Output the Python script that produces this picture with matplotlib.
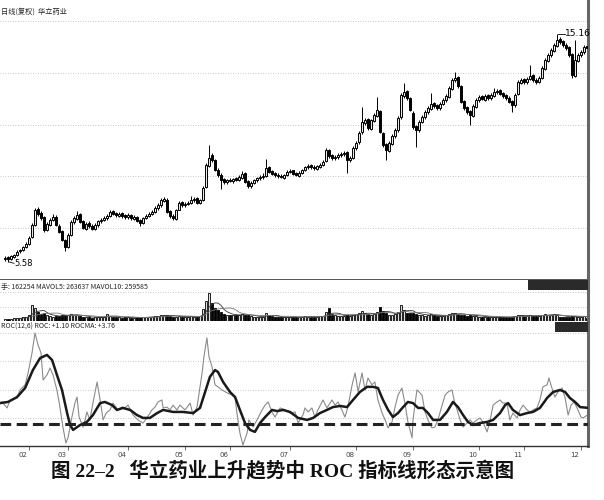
import numpy as np
import pandas as pd
import matplotlib
matplotlib.use("Agg")
import matplotlib.pyplot as plt
from matplotlib.patches import Rectangle
from matplotlib.transforms import ScaledTranslation

# daily candles (price, yuan)
opens = [5.70, 5.78, 5.72, 5.80, 5.88, 6.02, 6.07, 6.20, 6.33, 6.62,
         7.15, 7.80, 7.62, 7.45, 6.90, 7.15, 7.36, 7.48, 7.10, 6.86,
         6.48, 6.20, 6.72, 7.24, 7.40, 7.58, 7.28, 6.98, 7.20, 7.10,
         6.95, 7.12, 7.28, 7.33, 7.42, 7.50, 7.70, 7.62, 7.52, 7.62,
         7.53, 7.45, 7.56, 7.40, 7.48, 7.32, 7.20, 7.42, 7.50, 7.58,
         7.66, 7.83, 7.95, 8.15, 8.20, 7.70, 7.52, 7.40, 7.78, 8.08,
         7.95, 8.00, 8.04, 8.16, 8.25, 8.05, 8.18, 8.72, 9.60, 10.05,
         9.85, 9.46, 9.25, 9.05, 8.92, 9.04, 8.96, 9.10, 9.00, 9.12,
         9.30, 8.96, 8.75, 8.88, 9.00, 9.10, 9.14, 9.18, 9.55, 9.38,
         9.30, 9.25, 9.20, 9.12, 9.22, 9.34, 9.42, 9.30, 9.20, 9.30,
         9.42, 9.55, 9.63, 9.58, 9.50, 9.58, 9.64, 9.80, 10.30, 10.05,
         9.93, 9.98, 10.05, 10.10, 10.20, 9.84, 9.96, 10.35, 10.60, 11.02,
         11.40, 11.58, 11.18, 11.50, 11.72, 11.90, 11.00, 10.52, 10.25, 10.55,
         10.85, 11.10, 11.65, 12.55, 12.75, 12.45, 11.85, 11.28, 11.10, 11.44,
         11.65, 11.86, 12.02, 12.24, 12.15, 12.03, 12.20, 12.36, 12.52, 12.85,
         13.20, 13.35, 12.95, 12.32, 12.08, 11.90, 11.72, 12.10, 12.36, 12.54,
         12.40, 12.57, 12.45, 12.56, 12.70, 12.78, 12.66, 12.58, 12.48, 12.32,
         12.15, 12.62, 13.10, 13.25, 13.12, 13.25, 13.42, 13.24, 13.12, 13.30,
         13.70, 14.02, 14.25, 14.45, 14.65, 14.95, 14.85, 14.70, 14.60, 14.30,
         13.40, 14.02, 14.25, 14.38, 14.65]
closes = [5.75, 5.71, 5.83, 5.87, 6.00, 6.08, 6.21, 6.34, 6.59, 7.13,
          7.76, 7.60, 7.43, 6.92, 7.18, 7.34, 7.47, 7.13, 6.84, 6.50,
          6.21, 6.71, 7.26, 7.43, 7.55, 7.26, 7.01, 7.18, 7.09, 6.97,
          7.13, 7.30, 7.34, 7.43, 7.51, 7.68, 7.60, 7.55, 7.60, 7.51,
          7.47, 7.55, 7.43, 7.47, 7.30, 7.22, 7.43, 7.51, 7.60, 7.68,
          7.85, 7.97, 8.18, 8.23, 7.68, 7.51, 7.43, 7.76, 8.06, 7.97,
          8.02, 8.06, 8.18, 8.23, 8.06, 8.18, 8.69, 9.65, 9.95, 9.86,
          9.44, 9.23, 9.02, 8.94, 9.02, 8.98, 9.07, 9.02, 9.15, 9.28,
          8.94, 8.77, 8.90, 9.02, 9.11, 9.15, 9.19, 9.53, 9.36, 9.28,
          9.23, 9.19, 9.15, 9.23, 9.36, 9.40, 9.28, 9.23, 9.32, 9.44,
          9.57, 9.61, 9.57, 9.53, 9.61, 9.65, 9.78, 10.28, 10.03, 9.95,
          9.99, 10.07, 10.12, 10.16, 9.86, 9.95, 10.37, 10.58, 11.00, 11.46,
          11.54, 11.21, 11.54, 11.75, 11.96, 11.04, 10.49, 10.28, 10.58, 10.87,
          11.12, 11.63, 12.59, 12.72, 12.47, 11.96, 11.25, 11.12, 11.46, 11.67,
          11.88, 12.05, 12.22, 12.13, 12.05, 12.22, 12.38, 12.55, 12.89, 13.22,
          13.31, 12.97, 12.30, 12.05, 11.88, 11.75, 12.13, 12.38, 12.51, 12.43,
          12.55, 12.47, 12.59, 12.72, 12.76, 12.64, 12.55, 12.47, 12.30, 12.17,
          12.59, 13.14, 13.22, 13.14, 13.27, 13.39, 13.22, 13.14, 13.31, 13.73,
          14.06, 14.27, 14.48, 14.69, 14.90, 14.82, 14.69, 14.57, 14.27, 13.43,
          14.06, 14.27, 14.40, 14.61, 14.57]
highs = [5.82, 5.84, 5.88, 5.93, 6.06, 6.14, 6.26, 6.40, 6.65, 7.20,
         7.85, 7.88, 7.70, 7.50, 7.25, 7.42, 7.58, 7.55, 7.16, 6.92,
         6.55, 6.78, 7.32, 7.52, 7.72, 7.62, 7.34, 7.25, 7.28, 7.16,
         7.20, 7.36, 7.42, 7.50, 7.58, 7.76, 7.78, 7.68, 7.66, 7.68,
         7.60, 7.62, 7.60, 7.54, 7.52, 7.38, 7.48, 7.58, 7.66, 7.75,
         7.92, 8.05, 8.25, 8.30, 8.25, 7.76, 7.58, 7.82, 8.12, 8.14,
         8.10, 8.14, 8.36, 8.30, 8.30, 8.24, 8.75, 9.72, 10.49, 10.15,
         9.90, 9.52, 9.30, 9.10, 9.08, 9.10, 9.12, 9.15, 9.22, 9.40,
         9.34, 9.00, 8.96, 9.08, 9.16, 9.22, 9.30, 9.90, 9.62, 9.42,
         9.36, 9.30, 9.26, 9.28, 9.42, 9.50, 9.46, 9.35, 9.38, 9.50,
         9.62, 9.68, 9.68, 9.64, 9.66, 9.72, 9.85, 10.37, 10.34, 10.10,
         10.06, 10.14, 10.20, 10.24, 10.24, 10.02, 10.44, 10.66, 11.08, 12.09,
         11.64, 11.64, 11.60, 11.82, 12.51, 11.95, 11.05, 10.58, 10.64, 10.94,
         11.20, 11.70, 12.66, 13.10, 12.80, 12.50, 11.90, 11.34, 11.52, 11.74,
         11.95, 12.12, 12.68, 12.30, 12.20, 12.28, 12.45, 12.62, 12.96, 13.30,
         13.56, 13.40, 13.00, 12.38, 12.14, 11.96, 12.20, 12.45, 12.58, 12.60,
         12.62, 12.62, 12.66, 12.89, 12.84, 12.84, 12.72, 12.64, 12.54, 12.38,
         12.66, 13.22, 13.30, 13.32, 13.34, 13.85, 13.48, 13.30, 13.38, 13.80,
         14.14, 14.35, 14.56, 14.78, 15.16, 15.02, 14.92, 14.76, 14.66, 14.35,
         14.90, 14.34, 14.48, 14.68, 14.72]
lows = [5.62, 5.58, 5.68, 5.76, 5.84, 5.97, 6.02, 6.15, 6.30, 6.58,
        7.10, 7.52, 7.35, 6.85, 6.86, 7.10, 7.30, 7.08, 6.78, 6.44,
        6.05, 6.15, 6.68, 7.18, 7.36, 7.20, 6.95, 6.92, 7.02, 6.90,
        6.90, 7.06, 7.22, 7.28, 7.36, 7.45, 7.54, 7.48, 7.46, 7.44,
        7.40, 7.40, 7.36, 7.34, 7.24, 7.10, 7.16, 7.38, 7.45, 7.54,
        7.62, 7.78, 7.90, 8.08, 7.62, 7.44, 7.35, 7.36, 7.74, 7.90,
        7.90, 7.95, 8.00, 8.10, 8.00, 8.00, 8.14, 8.70, 9.55, 9.78,
        9.38, 9.16, 8.65, 8.86, 8.86, 8.92, 8.90, 8.96, 8.96, 9.08,
        8.88, 8.70, 8.70, 8.84, 8.95, 9.04, 9.08, 9.14, 9.30, 9.22,
        9.16, 9.12, 9.10, 9.08, 9.18, 9.30, 9.22, 9.18, 9.16, 9.26,
        9.38, 9.50, 9.50, 9.46, 9.46, 9.54, 9.60, 9.76, 9.96, 9.88,
        9.88, 9.92, 10.00, 10.04, 9.32, 9.78, 9.92, 10.30, 10.55, 10.96,
        11.32, 11.14, 11.12, 11.45, 11.68, 10.98, 10.42, 9.86, 10.20, 10.50,
        10.80, 11.05, 11.60, 12.45, 12.40, 11.90, 11.18, 10.41, 11.05, 11.40,
        11.60, 11.80, 11.96, 12.06, 11.96, 11.98, 12.15, 12.30, 12.48, 12.80,
        13.14, 12.90, 12.24, 11.98, 11.80, 11.33, 11.68, 12.05, 12.30, 12.36,
        12.35, 12.40, 12.40, 12.50, 12.64, 12.58, 12.48, 12.40, 12.24, 11.88,
        12.10, 12.58, 13.04, 13.06, 13.06, 13.20, 13.15, 13.06, 13.08, 13.25,
        13.65, 13.96, 14.20, 14.40, 14.60, 14.74, 14.62, 14.50, 14.20, 13.31,
        13.36, 13.96, 14.18, 14.32, 14.50]

# volume, 万手
volume = [14, 12, 15, 16, 18, 20, 22, 28, 40, 100,
          80, 55, 45, 50, 35, 30, 28, 30, 32, 35,
          40, 38, 42, 35, 40, 30, 28, 25, 22, 20,
          24, 26, 25, 28, 44, 30, 28, 24, 22, 20,
          22, 24, 20, 18, 22, 26, 24, 22, 25, 28,
          30, 32, 35, 38, 40, 30, 26, 28, 32, 28,
          25, 24, 30, 28, 26, 30, 75, 125, 175, 110,
          80, 70, 55, 45, 40, 38, 35, 40, 38, 42,
          40, 36, 30, 28, 26, 25, 28, 48, 38, 30,
          26, 24, 22, 24, 26, 28, 24, 22, 25, 28,
          30, 28, 26, 25, 28, 30, 34, 55, 80, 42,
          35, 32, 30, 34, 40, 32, 38, 42, 50, 60,
          48, 42, 40, 44, 55, 88, 60, 48, 40, 38,
          42, 55, 100, 70, 52, 48, 50, 45, 38, 35,
          34, 36, 42, 35, 32, 30, 34, 36, 42, 48,
          52, 45, 40, 35, 34, 38, 32, 30, 28, 26,
          25, 24, 26, 28, 25, 24, 22, 24, 26, 28,
          34, 40, 36, 32, 30, 38, 34, 30, 32, 38,
          42, 40, 38, 42, 40, 25, 24, 22, 26, 30.4,
          30, 28, 28, 30, 16.2]

# ROC(12) and ROCMA(6) (day index, %)
roc_day = [-1, 0.7, 1.7, 4, 5, 6.7, 7.7, 9, 10, 11, 12, 12.7, 14, 15, 16, 17.3,
           18.3, 19.3, 20.3, 21, 22.3, 23.3, 24, 24.7, 26, 26.7, 27.3, 28.3, 29.3,
           30.7, 31.7, 32.7, 33.7, 35, 36, 37.7, 39, 40, 41, 42.7, 44.3, 46, 47.3,
           49, 50, 51, 52.3, 52.7, 54, 55, 56, 57.3, 58.3, 60, 61.7, 62.7, 64, 64.7,
           65.7, 66.3, 67.3, 68, 69, 70, 71, 72.3, 74, 75.7, 76.7, 77.3, 78.3, 79.3,
           80.7, 81.3, 82.7, 84, 85.7, 86.7, 87.7, 89, 90, 91.7, 93.3, 95, 96.7,
           97.7, 98.3, 99.3, 100, 101, 102.3, 103.3, 104.3, 106, 107.3, 109, 110,
           111, 112.3, 113.3, 114.3, 115.7, 116.7, 117.7, 119, 120, 121, 122.3,
           123.3, 124.3, 125.7, 126.7, 127.7, 129, 130, 131, 132.3, 133.3, 134.3,
           135.7, 136, 137.3, 138, 139, 140, 141, 142.3, 143.3, 144.3, 145.7, 146.7,
           147.7, 149, 149.7, 150.7, 151.7, 152.7, 154, 155, 156, 157.3, 158.3,
           159.3, 160.7, 161.7, 162.7, 164, 165, 166, 167.3, 168.3, 169.3, 170.7,
           171.7, 172.7, 174, 175, 176, 177.3, 178.3, 179.3, 180.7, 181.3, 182.3,
           183.3, 184.3, 185.7, 186.7, 187.7, 188.7, 189.7, 190.7, 192, 192.7, 194]
roc_val = [5.8, 3.7, 6.5, 7.2, 10.0, 11.8, 16.0, 23.0, 30.0, 25.8, 23.0, 13.5, 15.3,
           17.7, 15.3, 10.0, 4.0, -3.0, -8.6, -6.8, 0.5, 5.4, 7.5, 0.5, -3.0, -0.5,
           2.3, -0.5, 5.4, 12.8, 6.5, -0.5, 1.9, 3.0, 5.4, 3.0, 4.0, 3.7, 4.7, 1.2,
           -0.5, -1.6, 0.2, 3.0, 4.0, 5.8, 6.5, 3.7, 4.0, 3.0, 4.7, 3.0, 4.7, 3.0,
           5.4, 1.2, 4.0, 9.0, 16.0, 21.6, 28.3, 21.6, 18.1, 11.8, 11.1, 10.0, 9.0,
           8.2, 7.2, 1.9, -5.1, -9.3, -5.1, -0.5, -3.0, -0.5, 3.0, 4.7, 5.8, 2.3,
           0.5, 3.7, 3.0, 1.9, 2.3, -1.6, -0.5, 1.2, 3.7, 2.3, 3.7, 0.5, 3.0, 6.5,
           3.7, 6.5, 4.7, 5.8, 3.0, 0.5, 4.0, 11.8, 16.0, 9.3, 16.0, 10.0, 14.2,
           11.8, 12.8, 6.5, 1.9, -0.5, -3.3, -1.2, 4.0, 8.2, 10.7, 5.4, -1.2, -6.8,
           -0.5, 10.0, 9.3, 8.2, 2.3, -0.5, -3.3, -3.0, -0.5, 4.7, 8.2, 9.3, 10.0,
           6.5, 3.0, -0.5, -3.0, -1.6, -0.5, -1.6, -0.5, 0.2, -1.2, -4.7, -0.5, 4.7,
           5.8, 6.5, 5.4, 5.4, -0.5, 1.9, 0.2, 3.0, 4.7, 3.0, 2.3, 3.0, 3.7, 6.5,
           11.1, 11.8, 14.2, 10.7, 7.5, 9.3, 10.7, 7.2, 1.2, 4.7, 5.8, 3.7, 0.5,
           0.2, 1.1]
rocma_day = [-1.7, 1, 4, 6.7, 9.3, 11.7, 14, 15.7, 17.3, 19, 20.7, 21.7, 22.7, 25,
             27.3, 29.3, 31.7, 33.3, 35.7, 37.3, 39.3, 41.7, 44, 46, 48.3, 50.7,
             52.7, 56, 59.3, 62.7, 65, 66.7, 68.3, 70, 71, 72.7, 75, 76.7, 78.3, 80,
             81.7, 83.3, 85, 86.7, 89, 90.7, 92.7, 95, 97.7, 100.7, 102.7, 105,
             107.3, 109.3, 111.7, 114, 116, 118.3, 120.7, 122.7, 124.3, 126, 127.7,
             129.3, 131, 132.7, 134.3, 136, 137.7, 139.3, 141, 142.7, 145, 147.3,
             149.3, 151, 152.7, 154.3, 156, 158.3, 160.7, 162.7, 165, 166.7, 167.7,
             169.3, 171.7, 174, 176, 178.3, 180.7, 182.7, 185, 186.7, 188.3, 190,
             191.7, 194]
rocma_val = [5.4, 5.8, 7.5, 10.7, 17.0, 21.2, 22.3, 20.5, 15.3, 10.0, 1.9, -2.3,
             -4.0, -2.3, -1.2, 1.2, 5.4, 5.8, 4.7, 3.0, 3.7, 3.0, 1.2, 0.2, 0.2, 1.9,
             3.0, 2.3, 2.3, 1.9, 3.7, 9.3, 14.6, 17.0, 16.3, 12.8, 9.3, 7.5, 3.0,
             -1.6, -4.0, -4.7, -1.6, 0.5, 3.0, 2.6, 3.0, 2.3, 0.2, -0.5, 0.2, 1.9,
             3.0, 4.0, 4.4, 4.0, 6.5, 9.3, 11.1, 11.1, 10.7, 6.5, 3.0, 0.5, 1.9, 4.0,
             5.8, 5.4, 3.7, 3.7, 1.9, -0.5, -0.5, 2.3, 5.8, 4.0, 1.2, -1.2, -2.3,
             -1.6, -1.2, -0.5, 1.9, 4.7, 5.4, 3.0, 1.2, 1.9, 2.3, 3.7, 7.2, 9.3,
             10.0, 9.3, 7.2, 5.8, 4.0, 3.76]

months = ['02', '03', '04', '05', '06', '07', '08', '09', '10', '11', '12']
month_start = [8, 21, 41, 60, 75, 95, 117, 136, 158, 173, 192]

CJK = ['Noto Sans CJK SC', 'DejaVu Sans']
GRID = dict(color='#b5b5b5', lw=0.6, ls=(0, (1, 2)))
W = 588 / 604

o = np.array(opens)
c = np.array(closes)
h = np.array(highs)
l = np.array(lows)
v = np.array(volume)
days = np.arange(len(c))
up = c >= o

fig = plt.figure(figsize=(6.04, 5.0), dpi=100)
ax_p = fig.add_axes([0, 0.44, W, 0.56])
ax_v = fig.add_axes([0, 0.358, W, 0.082])
ax_r = fig.add_axes([0, 0.108, W, 0.25])

for ax in (ax_p, ax_v, ax_r):
    ax.set_xlim(-1.67, 194.33)
    ax.spines['left'].set_visible(False)
    ax.spines['top'].set_visible(False)
    ax.spines['right'].set_color('#666666')
    ax.spines['right'].set_linewidth(2.2)
    ax.tick_params(left=False, labelleft=False, bottom=False, labelbottom=False)
    ax.set_facecolor('white')

# price panel
ax_p.set_ylim(4.82, 16.58)
for g in [7.0, 9.19, 11.35, 13.52, 15.7]:
    ax_p.axhline(g, zorder=0, **GRID)
ax_p.spines['bottom'].set_color('#444444')
ax_p.spines['bottom'].set_linewidth(2)
ax_p.vlines(days, l, h, color='black', lw=0.7, zorder=2)
body_lo = np.minimum(o, c)
body_h = np.maximum(np.abs(c - o), 0.03)
ax_p.bar(days[up], body_h[up], 0.75, bottom=body_lo[up], facecolor='#e8e8e8',
         edgecolor='black', linewidth=0.7, zorder=3)
ax_p.bar(days[~up], body_h[~up], 0.75, bottom=body_lo[~up], facecolor='black',
         edgecolor='black', linewidth=0.7, zorder=3)

i_lo = int(np.argmin(l))
i_hi = int(np.argmax(h))
ax_p.plot([i_lo + 0.4, i_lo + 2.0], [l[i_lo], l[i_lo] - 0.06], color='black', lw=0.6)
ax_p.text(i_lo + 2.2, l[i_lo] - 0.08, f'{l[i_lo]:.2f}', fontsize=6, va='center', ha='left')
ax_p.plot([i_hi + 0.4, i_hi + 2.6], [h[i_hi], h[i_hi]], color='black', lw=0.6)
ax_p.text(i_hi + 2.7, h[i_hi], f'{h[i_hi]:.2f}', fontsize=6.5, va='center', ha='left')

fig.text(0.002, 1 - 12 / 500, '日线(复权)  华立药业', family=CJK, fontsize=5.2,
         va='center', ha='left', color='#222222')

# volume panel
ax_v.set_ylim(0, 256)
for g in [88, 180]:
    ax_v.axhline(g, zorder=0, **GRID)
ax_v.spines['bottom'].set_visible(False)
ax_v.bar(days[up], v[up], 0.8, facecolor='#e0e0e0', edgecolor='black', linewidth=0.6, zorder=2)
ax_v.bar(days[~up], v[~up], 0.8, facecolor='black', edgecolor='black', linewidth=0.6, zorder=2)
vs = pd.Series(v)
ax_v.plot(days, vs.rolling(5).mean(), color='#333333', lw=0.6, zorder=3)
ax_v.plot(days, vs.rolling(10).mean(), color='#777777', lw=0.6, zorder=3)
fig.text(0.002, 1 - 287 / 500, '手: 162254 MAVOL5: 263637 MAVOL10: 259585',
         family=CJK, fontsize=5, va='center', ha='left', color='#222222')
fig.patches.append(Rectangle((528 / 604, 1 - 290 / 500), 60 / 604, 10 / 500,
                             transform=fig.transFigure, facecolor='#2a2a2a',
                             edgecolor='none', zorder=5))

# ROC panel
ax_r.set_ylim(-9.65, 34.2)
for g in [0, 10, 20, 30]:
    ax_r.axhline(g, zorder=0, **GRID)
ax_r.spines['bottom'].set_color('#333333')
ax_r.spines['bottom'].set_linewidth(1)
ax_r.plot(roc_day, roc_val, color='#8a8a8a', lw=0.8, zorder=2)
ax_r.plot(rocma_day, rocma_val, color='#1a1a1a', lw=1.8, zorder=3)
ax_r.axhline(-1.9, color='#222222', lw=2.2, dashes=(3.5, 1.8), zorder=4)
ax_r.set_xticks(month_start)
ax_r.set_xticklabels(months)
ax_r.tick_params(bottom=True, labelbottom=True, length=3, width=0.6, color='#555555',
                 labelsize=5, labelcolor='#444444', pad=1)
for lab in ax_r.get_xticklabels():
    lab.set_transform(lab.get_transform() + ScaledTranslation(-0.06, 0, fig.dpi_scale_trans))
fig.text(0.002, 1 - 327 / 500, 'ROC(12,6) ROC: +1.10 ROCMA: +3.76',
         family=CJK, fontsize=5, va='center', ha='left', color='#222222')
fig.patches.append(Rectangle((555 / 604, 1 - 332 / 500), 33 / 604, 10 / 500,
                             transform=fig.transFigure, facecolor='#2a2a2a',
                             edgecolor='none', zorder=5))

fig.text(0.467, 1 - 470 / 500, '图 22–2   华立药业上升趋势中 ROC 指标线形态示意图',
         family=['Liberation Serif', 'Noto Sans CJK SC'], fontsize=14,
         fontweight='bold', ha='center', va='center', color='#111111')

fig.savefig('out.png', dpi=100, facecolor='white')
